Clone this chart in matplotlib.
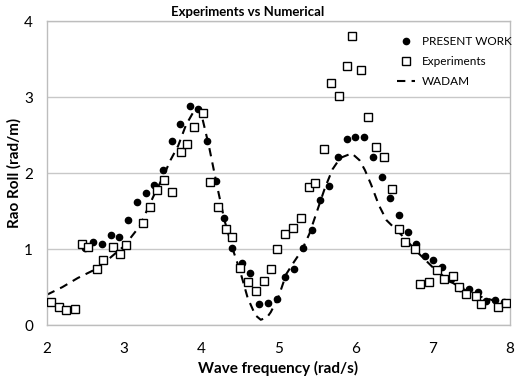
import matplotlib.pyplot as plt

# Present work (filled dots)
pw_freq = [2.49, 2.60, 2.71, 2.83, 2.93, 3.05, 3.17, 3.28, 3.39, 3.50,
           3.62, 3.73, 3.85, 3.96, 4.07, 4.19, 4.29, 4.40, 4.53, 4.63,
           4.75, 4.86, 4.98, 5.08, 5.20, 5.32, 5.43, 5.54, 5.65, 5.77,
           5.89, 5.99, 6.11, 6.22, 6.34, 6.44, 6.56, 6.68, 6.78, 6.90,
           7.00, 7.12, 7.23, 7.35, 7.47, 7.58, 7.69, 7.80, 7.92]
pw_rao = [1.01, 1.09, 1.07, 1.18, 1.16, 1.38, 1.62, 1.74, 1.84, 2.04,
          2.42, 2.64, 2.89, 2.84, 2.42, 1.89, 1.41, 1.01, 0.82, 0.68,
          0.28, 0.29, 0.34, 0.63, 0.74, 1.01, 1.25, 1.64, 1.83, 2.21,
          2.45, 2.47, 2.47, 2.21, 1.95, 1.67, 1.45, 1.22, 1.07, 0.91,
          0.86, 0.76, 0.61, 0.49, 0.47, 0.43, 0.32, 0.33, 0.30]

# Experiments (open squares)
exp_freq = [2.05, 2.16, 2.25, 2.36, 2.45, 2.53, 2.65, 2.73, 2.85, 2.95,
            3.02, 3.24, 3.33, 3.42, 3.52, 3.62, 3.74, 3.81, 3.90, 4.02,
            4.11, 4.22, 4.32, 4.40, 4.50, 4.60, 4.71, 4.81, 4.90, 4.98,
            5.08, 5.19, 5.29, 5.39, 5.47, 5.59, 5.68, 5.78, 5.89, 5.95,
            6.07, 6.16, 6.27, 6.37, 6.47, 6.56, 6.64, 6.77, 6.84, 6.95,
            7.05, 7.14, 7.26, 7.34, 7.43, 7.56, 7.62, 7.84, 7.95]
exp_rao = [0.30, 0.24, 0.20, 0.21, 1.07, 1.03, 0.74, 0.86, 1.03, 0.93,
           1.05, 1.34, 1.55, 1.78, 1.91, 1.75, 2.28, 2.38, 2.61, 2.79,
           1.88, 1.55, 1.26, 1.16, 0.75, 0.57, 0.45, 0.58, 0.74, 1.00,
           1.20, 1.28, 1.41, 1.82, 1.87, 2.32, 3.18, 3.01, 3.41, 3.80,
           3.36, 2.74, 2.34, 2.21, 1.79, 1.26, 1.09, 1.00, 0.54, 0.57,
           0.72, 0.61, 0.64, 0.50, 0.41, 0.38, 0.28, 0.24, 0.29]

# WADAM (dashed line)
wadam_freq = [2.0, 2.2, 2.4, 2.6, 2.8, 3.0, 3.2, 3.4, 3.5, 3.6, 3.7, 3.8,
              3.9, 3.96, 4.0, 4.1, 4.2, 4.3, 4.4, 4.5, 4.6, 4.7, 4.77,
              4.85, 4.9, 5.0, 5.1, 5.2, 5.3, 5.4, 5.5, 5.6, 5.7, 5.8,
              5.95, 6.05, 6.12, 6.2, 6.3, 6.4, 6.5, 6.6, 6.7, 6.8, 6.9,
              7.0, 7.2, 7.4, 7.6, 7.8, 8.0]
wadam_rao = [0.40, 0.50, 0.62, 0.72, 0.87, 1.04, 1.30, 1.74, 1.94, 2.17,
             2.36, 2.63, 2.81, 2.86, 2.78, 2.35, 1.85, 1.38, 1.02, 0.72,
             0.36, 0.13, 0.07, 0.10, 0.17, 0.37, 0.67, 0.83, 0.98, 1.20,
             1.50, 1.80, 2.05, 2.20, 2.26, 2.17, 2.04, 1.85, 1.58, 1.38,
             1.28, 1.18, 1.07, 0.96, 0.86, 0.76, 0.59, 0.47, 0.38, 0.32,
             0.28]

plt.rcParams['font.family'] = ['Lato', 'DejaVu Sans']

fig = plt.figure(figsize=(5.22, 3.78), dpi=100)
ax = fig.add_axes([0.090, 0.140, 0.887, 0.804])

ax.plot(wadam_freq, wadam_rao, color='black', linestyle=(0, (4, 3)),
        linewidth=1.5, label='WADAM', zorder=2)
ax.plot(pw_freq, pw_rao, 'o', color='black', markersize=4.5,
        label='PRESENT WORK', zorder=3)
ax.plot(exp_freq, exp_rao, 's', markerfacecolor='white',
        markeredgecolor='black', markeredgewidth=1.0, markersize=6,
        label='Experiments', zorder=4)

ax.set_xlim(2, 8)
ax.set_ylim(0, 4)
ax.set_xticks(range(2, 9))
ax.set_yticks(range(0, 5))
ax.tick_params(axis='x', length=0, labelsize=11, pad=12)
ax.tick_params(axis='y', length=0, labelsize=11, pad=10)
ax.grid(axis='y', color='#c8c8c8', linewidth=1)
ax.set_axisbelow(True)
for s in ax.spines.values():
    s.set_color('#bdbdbd')
    s.set_linewidth(1)

ax.set_xlabel('Wave frequency (rad/s)', fontsize=11, fontweight='bold',
              labelpad=4)
ax.set_ylabel('Rao Roll (rad/m)', fontsize=11, fontweight='bold',
              labelpad=2)
fig.text(0.475, 0.969, 'Experiments vs Numerical', fontsize=9.5,
         fontweight='bold', ha='center', va='center')

handles, labels = ax.get_legend_handles_labels()
order = [1, 2, 0]
ax.legend([handles[i] for i in order], [labels[i] for i in order],
          loc='upper left', bbox_to_anchor=(0.74, 0.933),
          bbox_transform=fig.transFigure, frameon=False, fontsize=8.5,
          handlelength=1.5, handletextpad=0.6, labelspacing=0.75)

fig.savefig('out.png', dpi=100)
